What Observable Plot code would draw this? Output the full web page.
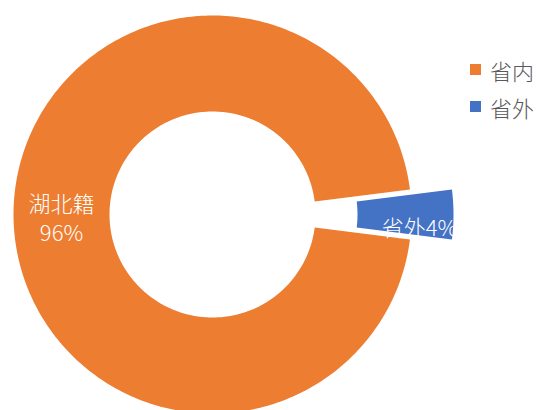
<!DOCTYPE html>
<html><head><meta charset="utf-8">
<script src="https://cdn.jsdelivr.net/npm/d3@7"></script>
<script src="https://cdn.jsdelivr.net/npm/@observablehq/plot@0.6"></script>
<style>
body{margin:0;background:#fff;}
#wrap{position:relative;width:540px;height:410px;overflow:hidden;}
#legend{position:absolute;left:470px;top:51px;font-family:"Noto Sans CJK SC",sans-serif;font-weight:300;font-size:22px;color:#595959;}
.item{display:flex;align-items:center;height:37px;white-space:nowrap;}
.sw{width:11px;height:11px;margin-right:9px;flex:none;}
</style></head><body>
<div id="wrap"><div id="chart"></div><div id="legend"></div></div>
<script>
// Data
const categories = ["省内", "省外"];
const values = [96, 4];
const labelNames = ["湖北籍", "省外"];
const labelSeparators = ["\n", ""];
const colors = ["#ED7D31", "#4472C4"];

const data = categories.map((c, i) => ({cat: c, value: values[i], name: labelNames[i], sep: labelSeparators[i]}));
const total = d3.sum(values);
const lastShare = values[values.length - 1] / total;

// Geometry (pixels in data units)
const R = 199, r0 = 103, explode = [0, 42];
const start = Math.PI / 2 + Math.PI * lastShare;
const arcs = d3.pie().sort(null).value(d => d.value).startAngle(start).endAngle(start + 2 * Math.PI)(data);

const pts = [];
const labels = [];
arcs.forEach((a, i) => {
  const mid = (a.startAngle + a.endAngle) / 2;
  const ox = explode[i] * Math.sin(mid), oy = explode[i] * Math.cos(mid);
  const n = Math.max(8, Math.ceil((a.endAngle - a.startAngle) / (2 * Math.PI) * 360));
  for (let k = 0; k <= n; k++) {
    const t = a.startAngle + (a.endAngle - a.startAngle) * k / n;
    pts.push({cat: a.data.cat, x: ox + R * Math.sin(t), y: oy + R * Math.cos(t)});
  }
  for (let k = n; k >= 0; k--) {
    const t = a.startAngle + (a.endAngle - a.startAngle) * k / n;
    pts.push({cat: a.data.cat, x: ox + r0 * Math.sin(t), y: oy + r0 * Math.cos(t)});
  }
  const rm = (R + r0) / 2;
  labels.push({i, x: ox + rm * Math.sin(mid), y: oy + rm * Math.cos(mid),
    text: a.data.name + a.data.sep + Math.round(a.data.value / total * 100) + "%"});
});

const font = '"Noto Sans CJK SC", sans-serif';
const chart = Plot.plot({
  width: 540, height: 410,
  marginTop: 0, marginBottom: 0, marginLeft: 0, marginRight: 85,
  x: {domain: [-212, 243], axis: null},
  y: {domain: [-196, 214], axis: null},
  color: {domain: categories, range: colors},
  marks: [
    Plot.line(pts, {x: "x", y: "y", z: "cat", fill: "cat", stroke: "none", clip: true}),
    Plot.text(labels.filter(d => d.i === 0), {x: "x", y: "y", text: "text", fill: "white",
      fontSize: 22, fontFamily: font, fontWeight: 300, lineHeight: 1.32, dy: 3, clip: true}),
    Plot.text(labels.filter(d => d.i === 1), {x: "x", y: "y", text: "text", fill: "white",
      fontSize: 22, fontFamily: font, fontWeight: 300, dx: 14, dy: 14, clip: true})
  ]
});
document.getElementById("chart").appendChild(chart);

const legend = document.getElementById("legend");
categories.forEach((c, i) => {
  const it = document.createElement("div");
  it.className = "item";
  it.innerHTML = `<span class="sw" style="background:${colors[i]}"></span><span>${c}</span>`;
  legend.appendChild(it);
});
</script>
</body></html>
